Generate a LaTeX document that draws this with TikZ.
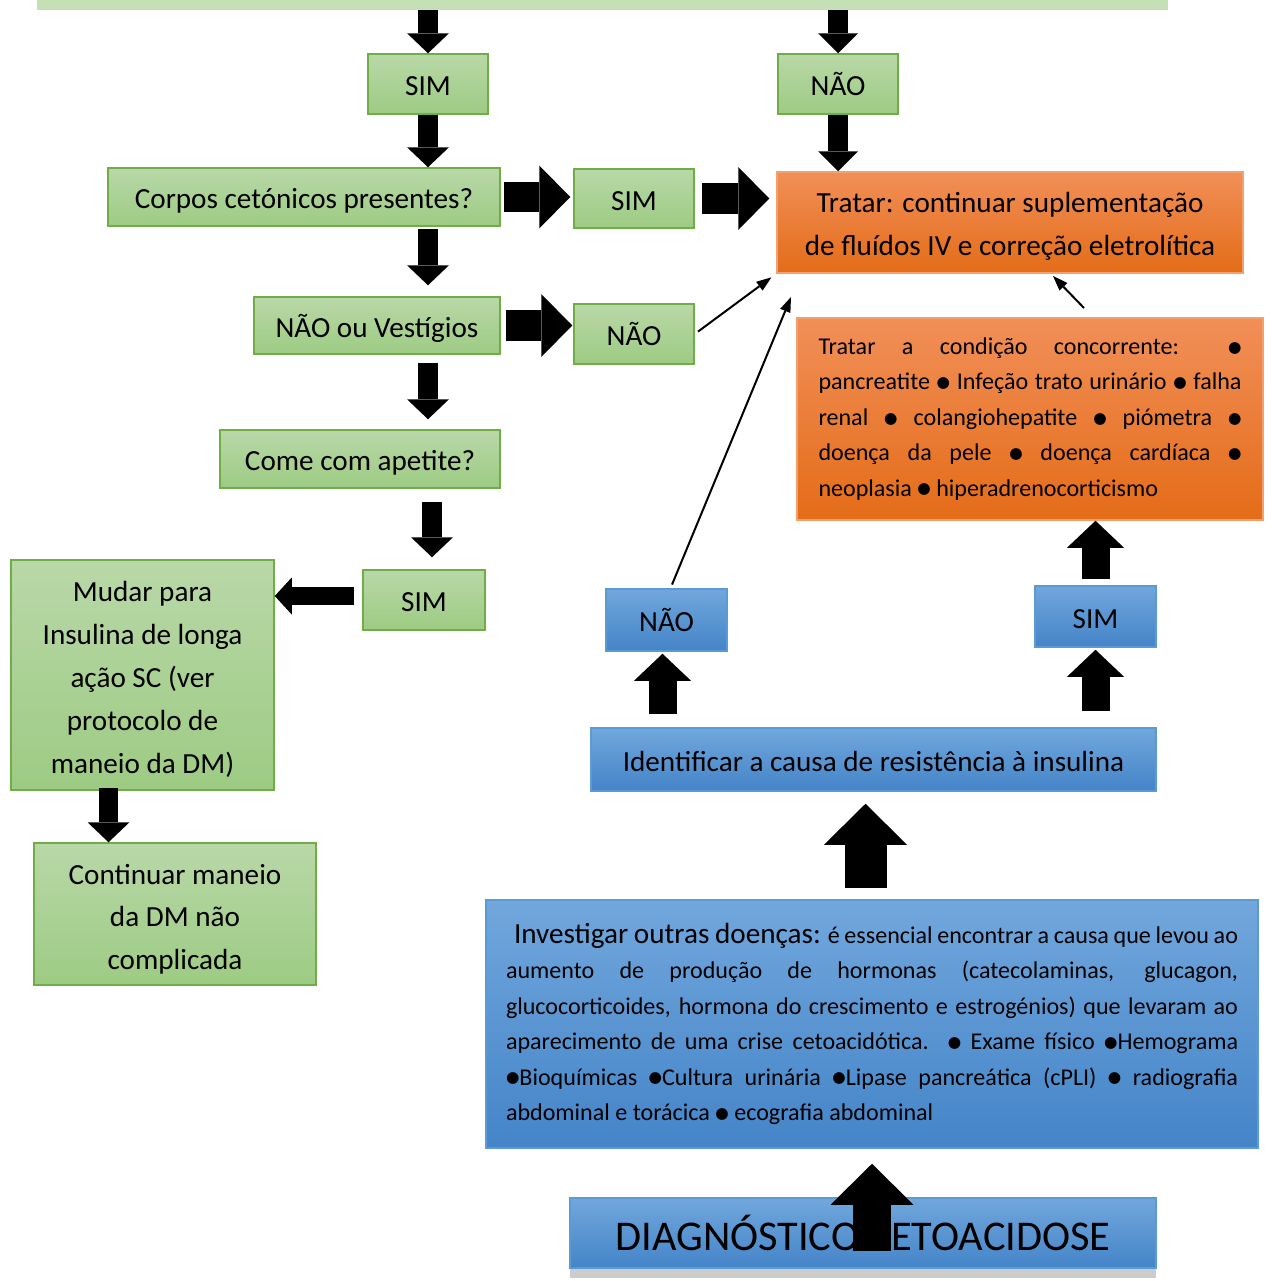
\documentclass[tikz,border=0pt]{standalone}
\usepackage{fontspec}
\setmainfont{Carlito}
\newfontfamily\dejavu{DejaVu Sans}
\usetikzlibrary{arrows.meta,shadows,calc}
\definecolor{barc}{RGB}{197,224,180}
\definecolor{greenT}{RGB}{185,216,168}
\definecolor{greenB}{RGB}{157,203,131}
\definecolor{greenD}{RGB}{112,173,71}
\definecolor{orangeT}{RGB}{241,143,88}
\definecolor{orangeB}{RGB}{228,108,24}
\definecolor{orangeD}{RGB}{242,160,110}
\definecolor{blueT}{RGB}{113,167,220}
\definecolor{blueB}{RGB}{68,132,200}
\definecolor{blueD}{RGB}{91,155,213}
\newcommand\bul{\raisebox{0.1em}{\dejavu\scalebox{0.64}{●}}}
\newcommand\fa{\fontsize{16.6pt}{24.4pt}\selectfont}
\newcommand\fb{\fontsize{13.7pt}{20.2pt}\selectfont}
\newcommand\fc{\fontsize{24.1pt}{29pt}\selectfont}
\newcommand\ts[1]{\rule{0pt}{#1}}
\newcommand\bx[7]{\node[#6, minimum width={(#4-#2)*0.02cm}, minimum height={(#5-#3)*0.02cm}] (#1) at ({(#2+#4)/2},{(#3+#5)/2}) {#7};}
\tikzset{
  greenbox/.style={draw=greenD, line width=0.03cm, top color=greenT, bottom color=greenB, inner sep=0pt, align=center, font=\fa},
  orangebox/.style={draw=orangeD, line width=0.03cm, top color=orangeT, bottom color=orangeB, inner sep=0pt, align=center, font=\fa},
  bluebox/.style={draw=blueD, line width=0.03cm, top color=blueT, bottom color=blueB, inner sep=0pt, align=center, font=\fa},
  oneline/.style={text height=15.6pt, text depth=2.5pt},
  blk/.style n args={3}{line width=#1, -{Triangle[width=#2,length=#3,line width=0pt]}},
  thinarrow/.style={line width=0.04cm, -{Triangle[width=0.22cm,length=0.3cm,line width=0pt]}}
}
\begin{document}
\begin{tikzpicture}[x=0.02cm, y=-0.02cm]
\clip (0,0) rectangle (1271,1281);
% top bar
\bx{bar}{37}{-20}{1168}{10}{fill=barc, inner sep=0pt}{}
% green / orange boxes
\bx{sima}{368}{54}{488}{114}{greenbox, oneline}{SIM}
\bx{naoa}{778}{54}{898}{114}{greenbox, oneline}{NÃO}
\bx{corpos}{108}{168}{500}{226}{greenbox, oneline}{Corpos cetónicos presentes?}
\bx{simb}{574}{169}{694}{228}{greenbox, oneline}{SIM}
\bx{tratar}{777}{172}{1243}{273}{orangebox}{\ts{0.98em}Tratar: continuar suplementação\\de fluídos IV e correção eletrolítica}
\bx{naov}{254}{297}{500}{354}{greenbox, oneline}{NÃO ou Vestígios}
\bx{naob}{574}{304}{694}{364}{greenbox, oneline}{NÃO}
\bx{cond}{797}{318}{1263}{520}{orangebox, font=\fb, align=justify, text width=423*0.02cm}{Tratar a condição concorrente: \bul\linebreak pancreatite \bul{} Infeção trato urinário \bul{} falha\linebreak renal \bul{} colangiohepatite \bul{} piómetra \bul\linebreak doença da pele \bul{} doença cardíaca \bul\linebreak neoplasia \bul{} hiperadrenocorticismo}
\bx{come}{220}{430}{500}{488}{greenbox, oneline}{Come com apetite?}
\bx{simc}{363}{570}{485}{630}{greenbox, oneline}{SIM}
\bx{mudar}{11}{560}{274}{790}{greenbox}{\ts{0.98em}Mudar para\\Insulina de longa\\ação SC (ver\\protocolo de\\maneio da DM)}
\bx{cont}{34}{843}{316}{985}{greenbox}{\ts{1.05em}Continuar maneio\\da DM não\\complicada}
% blue boxes
\bx{naoc}{606}{589}{727}{651}{bluebox, oneline}{NÃO}
\bx{simd}{1035}{586}{1156}{647}{bluebox, oneline}{SIM}
\bx{ident}{591}{728}{1156}{791}{bluebox, oneline}{Identificar a causa de resistência à insulina}
\bx{invest}{486}{900}{1258}{1148}{bluebox, font=\fb, align=justify, text width=732*0.02cm}{\hspace*{0.16cm}{\fa Investigar outras doenças:} é essencial encontrar a causa que levou ao\linebreak aumento de produção de hormonas (catecolaminas, glucagon,\linebreak glucocorticoides, hormona do crescimento e estrogénios) que levaram ao\linebreak aparecimento de uma crise cetoacidótica. \bul{} Exame físico \bul Hemograma\linebreak \bul Bioquímicas \bul Cultura urinária \bul Lipase pancreática (cPLI) \bul{} radiografia\linebreak abdominal e torácica \bul{} ecografia abdominal}
\bx{diag}{570}{1198}{1156}{1268}{bluebox, font=\fc, drop shadow={shadow xshift=0cm, shadow yshift=-0.2cm, opacity=0.4}}{DIAGNÓSTICO CETOACIDOSE}
% helper coordinates for shifted arrow lines
\coordinate (a5) at ($(simc.north)+(8,0)$);
\coordinate (a6) at ($(simc.west)+(0,-4)$);
\coordinate (a7) at ($(mudar.south)+(-34,0)$);
\coordinate (a13) at ($(naoc.south)+(-4,0)$);
\coordinate (a16) at ($(ident.south)+(-8,0)$);
\coordinate (a17) at ($(diag.south)+(9,-18)$);
% block arrows (down, left column)
\draw[blk={0.4cm}{0.84cm}{0.4cm}] (bar.south -| sima.north) -- (sima.north);
\draw[blk={0.4cm}{0.84cm}{0.4cm}] (sima.south) -- (sima.south |- corpos.north);
\draw[blk={0.4cm}{0.84cm}{0.4cm}, shorten <=0.04cm, shorten >=0.22cm] (corpos.south -| sima.south) -- (naov.north -| sima.south);
\draw[blk={0.4cm}{0.84cm}{0.4cm}, shorten <=0.16cm, shorten >=0.2cm] (naov.south -| sima.south) -- (come.north -| sima.south);
\draw[blk={0.4cm}{0.84cm}{0.4cm}, shorten <=0.26cm, shorten >=0.24cm] (a5 |- come.south) -- (a5);
\draw[blk={0.36cm}{0.74cm}{0.34cm}, shorten <=0.16cm] (a6) -- (a6 -| mudar.east);
\draw[blk={0.4cm}{0.84cm}{0.4cm}, shorten <=-0.06cm] (a7) -- (a7 |- cont.north);
% right arrows
\draw[blk={0.62cm}{1.26cm}{0.62cm}, shorten <=0.06cm, shorten >=0.06cm] (corpos.east) -- (corpos.east -| simb.west);
\draw[blk={0.62cm}{1.26cm}{0.62cm}, shorten <=0.1cm, shorten >=0.02cm] (naov.east) -- (naov.east -| naob.west);
\draw[blk={0.62cm}{1.26cm}{0.62cm}, shorten <=0.14cm, shorten >=0.14cm] (simb.east) -- (simb.east -| tratar.west);
% top NAO arrows
\draw[blk={0.4cm}{0.8cm}{0.4cm}] (bar.south -| naoa.north) -- (naoa.north);
\draw[blk={0.4cm}{0.8cm}{0.4cm}] (naoa.south) -- (naoa.south |- tratar.north);
% blue up arrows
\draw[blk={0.56cm}{1.14cm}{0.54cm}, shorten <=0.26cm, shorten >=0.04cm] (a13 |- ident.north) -- (a13);
\draw[blk={0.56cm}{1.14cm}{0.54cm}, shorten <=0.32cm, shorten >=0.04cm] (simd.south |- ident.north) -- (simd.south);
\draw[blk={0.56cm}{1.14cm}{0.54cm}, shorten <=0.12cm] (simd.north) -- (simd.north |- cond.south);
\draw[blk={0.84cm}{1.66cm}{0.82cm}, shorten <=0.22cm, shorten >=0.24cm] (a16 |- invest.north) -- (a16);
\draw[blk={0.76cm}{1.66cm}{0.82cm}, shorten >=0.3cm] (a17) -- (a17 |- invest.south);
% thin arrows
\coordinate (t1) at (791,297);
\coordinate (t2) at (1084,308);
\coordinate (t3) at (1053,276);
\draw[thinarrow, shorten <=0.08cm, shorten >=0.12cm] (naob.east) -- (tratar.south west);
\draw[thinarrow, shorten <=0.08cm] ($(naoc.north)+(4,0)$) -- (t1);
\draw[thinarrow] (t2) -- (t3);
\end{tikzpicture}
\end{document}
